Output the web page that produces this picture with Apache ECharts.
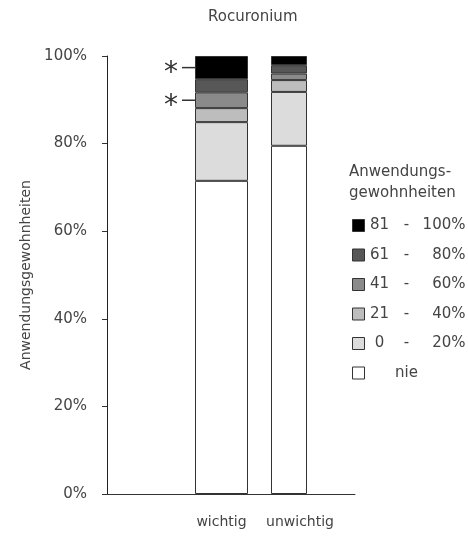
<!DOCTYPE html>
<html>
<head>
<meta charset="utf-8">
<script src="https://cdn.jsdelivr.net/npm/echarts@6/dist/echarts.min.js"></script>
<style>html,body{margin:0;padding:0;background:#fff}#c{width:468px;height:539px}</style>
</head>
<body>
<div id="c"></div>
<script>
const categories = ['wichtig', 'unwichtig'];
const levels = ['nie', '0 - 20%', '21 - 40%', '41 - 60%', '61 - 80%', '81 - 100%'];
const nie      = [71.5, 79.5];
const p0_20    = [13.4, 12.3];
const p21_40   = [3.2, 2.7];
const p41_60   = [3.6, 1.5];
const p61_80   = [3.0, 1.9];
const p81_100  = [5.3, 2.1];
const yTicks = [0, 20, 40, 60, 80, 100];
const significant = { wichtig: ['81 - 100%', '41 - 60%'] };

const seriesValues = [nie, p0_20, p21_40, p41_60, p61_80, p81_100];
const colors = ['#ffffff', '#dcdcdc', '#bdbdbd', '#8a8a8a', '#575757', '#000000'];
const font = 'DejaVu Sans';
const txt = '#444';

const series = [];
levels.forEach((lv, i) => {
  categories.forEach((cat, ci) => {
    const data = categories.map((c, k) => {
      if (k !== ci) return '-';
      const item = { value: seriesValues[i][ci] };
      if (significant[cat] && significant[cat].includes(lv)) {
        item.label = {
          show: true, position: 'left', distance: 0,
          formatter: '{s|*}{l|}',
          rich: {
            s: { fontSize: 28, fontFamily: font, color: '#333', padding: [12, 4, 0, 0] },
            l: { width: 13, height: 1.5, backgroundColor: '#333' }
          }
        };
      }
      return item;
    });
    series.push({
      name: lv, type: 'bar', stack: cat, xAxisIndex: 1 + ci, yAxisIndex: 1,
      barWidth: ci === 0 ? 53 : 36,
      itemStyle: { color: colors[i], borderColor: '#333', borderWidth: 1 },
      data: data
    });
  });
});

const legendText = {
  'nie': '{a|}{b|nie}',
  '0 - 20%': '{a|0}{b|-}{c|20%}',
  '21 - 40%': '{a|21}{b|-}{c|40%}',
  '41 - 60%': '{a|41}{b|-}{c|60%}',
  '61 - 80%': '{a|61}{b|-}{c|80%}',
  '81 - 100%': '{a|81}{b|-}{c|100%}'
};

const chart = echarts.init(document.getElementById('c'), null, { renderer: 'canvas' });
chart.setOption({
  animation: false,
  backgroundColor: '#fff',
  title: [
    { text: 'Rocuronium', left: 203, top: 5, textStyle: { fontFamily: font, fontSize: 15, fontWeight: 'normal', color: txt } },
    { text: 'Anwendungs-\ngewohnheiten', left: 344, top: 157, textStyle: { fontFamily: font, fontSize: 15, fontWeight: 'normal', color: txt, lineHeight: 21 } }
  ],
  legend: {
    orient: 'vertical', left: 347, top: 213, itemWidth: 12, itemHeight: 12, itemGap: 14.5,
    icon: 'rect',
    data: levels.slice().reverse(),
    itemStyle: { borderColor: '#333', borderWidth: 1 },
    formatter: n => legendText[n],
    textStyle: {
      fontFamily: font, fontSize: 15, color: txt,
      rich: {
        a: { width: 20, align: 'right', fontFamily: font, fontSize: 15, color: txt },
        b: { width: 34, align: 'center', fontFamily: font, fontSize: 15, color: txt },
        c: { width: 42, align: 'right', fontFamily: font, fontSize: 15, color: txt }
      }
    }
  },
  grid: [
    { left: 107, top: 56, width: 248, bottom: 45 },
    { left: 187.75, top: 56, width: 135, bottom: 45 }
  ],
  xAxis: [
    { type: 'category', gridIndex: 0, data: [''], axisLine: { lineStyle: { color: '#333' } }, axisTick: { show: false }, axisLabel: { show: false } },
    { type: 'category', gridIndex: 1, data: categories, axisLine: { show: false }, axisTick: { show: false },
      axisLabel: { interval: 0, hideOverlap: false, margin: 21, fontFamily: font, fontSize: 14, color: txt,
        formatter: v => v === 'unwichtig' ? '{u|' + v + '}' : v,
        rich: { u: { fontFamily: font, fontSize: 14, color: txt, padding: [0, 0, 0, 22] } } } },
    { type: 'category', gridIndex: 1, data: categories, show: false }
  ],
  yAxis: [
    { type: 'value', gridIndex: 0, min: 0, max: 100, interval: 20,
      name: 'Anwendungsgewohnheiten', nameLocation: 'middle', nameGap: 68, nameRotate: 90,
      nameTextStyle: { fontFamily: font, fontSize: 14, color: txt },
      axisLine: { show: true, lineStyle: { color: '#222' } },
      axisTick: { show: true, length: 5, lineStyle: { color: '#333' } },
      splitLine: { show: false },
      axisLabel: { margin: 20, fontFamily: font, fontSize: 15, color: txt,
        formatter: v => yTicks.includes(v) ? v + '%' : '' } },
    { type: 'value', gridIndex: 1, min: 0, max: 100, show: false }
  ],
  series: series
});
</script>
</body>
</html>
